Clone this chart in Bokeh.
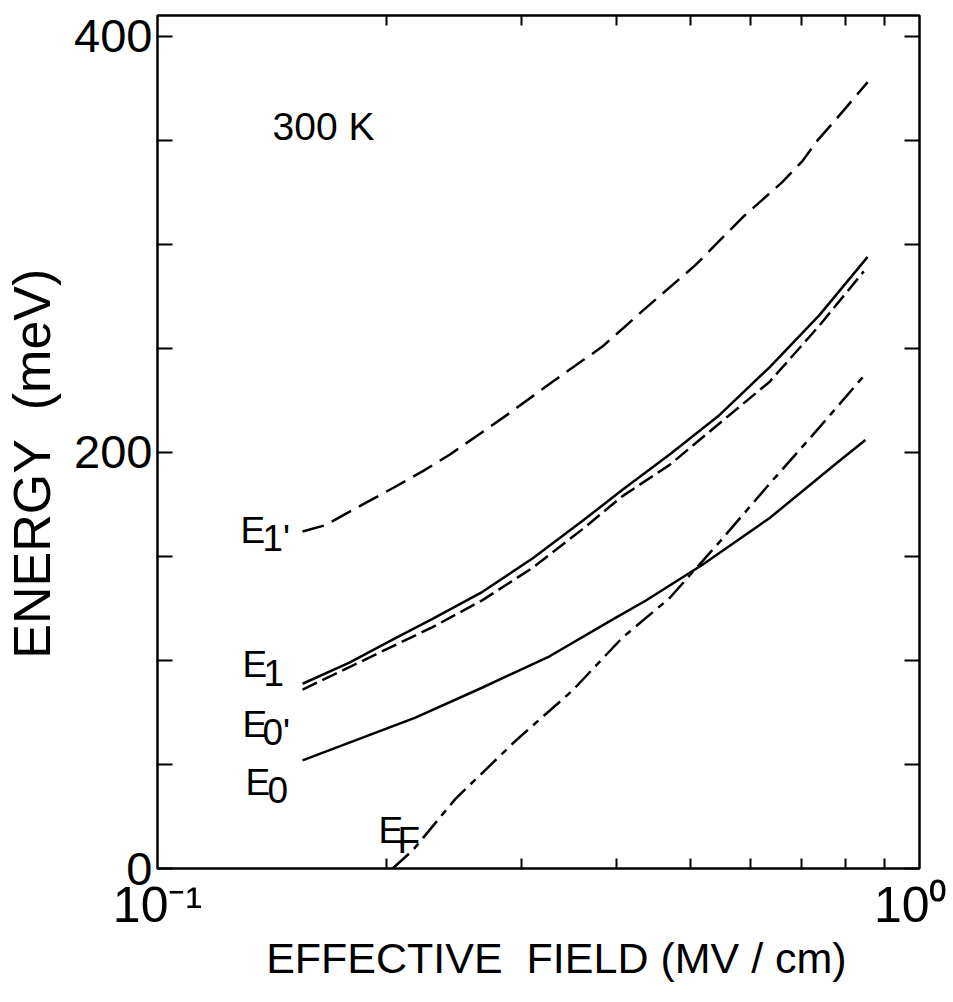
from bokeh.plotting import figure
from bokeh.models import FixedTicker, LinearAxis, LogAxis, Label, Range1d
from bokeh.embed import file_html
from bokeh.resources import INLINE

# ---- data ----
e1p_x = [0.155, 0.166, 0.186, 0.204, 0.223, 0.242, 0.265, 0.290, 0.330, 0.384, 0.433, 0.508, 0.586, 0.661, 0.702, 0.731, 0.785, 0.855]
e1p_y = [162, 165, 175, 183, 191, 199, 209, 219, 234, 251, 268, 290, 313, 330, 340, 349, 362, 378]

e1_x = [0.155, 0.1786, 0.2035, 0.2296, 0.267, 0.3105, 0.361, 0.4076, 0.470, 0.5466, 0.636, 0.739, 0.855]
e1_y = [88.8, 99, 110, 120, 133, 149, 167, 182, 199, 218, 241, 266, 294]

e0p_x = [0.155, 0.2296, 0.267, 0.3105, 0.361, 0.4076, 0.470, 0.5466, 0.636, 0.739, 0.845]
e0p_y = [86, 116, 129, 144.5, 163, 179, 194, 214, 234, 261, 287]

e0_x = [0.155, 0.218, 0.267, 0.327, 0.399, 0.437, 0.519, 0.636, 0.776, 0.849]
e0_y = [52, 72.5, 87, 102, 120.5, 128.7, 146, 168.5, 194.4, 206]

ef_x = [0.2035, 0.2161, 0.2462, 0.2951, 0.3503, 0.4076, 0.470, 0.5466, 0.636, 0.739, 0.849]
ef_y = [0, 8.6, 33.6, 61.4, 85.5, 111, 130, 157, 185, 212, 237.6]

y_major = [0, 200, 400]
y_minor = [50, 100, 150, 250, 300, 350]
x_major = [0.1, 1.0]
x_minor = [0.2, 0.3, 0.4, 0.5, 0.6, 0.7, 0.8, 0.9]
x_tick_labels = ["10\u207b\u00b9", "10\u2070"]

NB = "\u00a0"
FONT = "Liberation Sans"

p = figure(x_axis_type="log", x_range=Range1d(0.1, 1.0), y_range=Range1d(0, 410),
           frame_width=762, frame_height=853,
           min_border_left=147, min_border_top=15, min_border_right=28, min_border_bottom=119,
           output_backend="svg", toolbar_location=None)
p.background_fill_color = "white"
p.border_fill_color = "white"
p.grid.visible = False
p.outline_line_color = "black"
p.outline_line_width = 2.5

# left axis
ya = p.yaxis[0]
ya.ticker = FixedTicker(ticks=y_major, minor_ticks=y_minor)
ya.axis_line_color = None
ya.major_tick_in = 15
ya.major_tick_out = 0
ya.minor_tick_in = 15
ya.minor_tick_out = 0
ya.major_tick_line_width = 2
ya.minor_tick_line_width = 2
ya.major_label_text_font = FONT
ya.major_label_text_font_size = "47px"
ya.major_label_text_color = "black"
ya.major_label_standoff = 5
ya.axis_label = "ENERGY" + NB + " (meV)" + NB * 3
ya.axis_label_text_font = FONT
ya.axis_label_text_font_size = "52px"
ya.axis_label_text_font_style = "normal"
ya.axis_label_text_color = "black"
ya.axis_label_standoff = 10

# bottom axis
xa = p.xaxis[0]
xa.ticker = FixedTicker(ticks=x_major, minor_ticks=x_minor)
xa.axis_line_color = None
xa.major_tick_in = 0
xa.major_tick_out = 0
xa.minor_tick_in = 10
xa.minor_tick_out = 0
xa.minor_tick_line_width = 2
xa.major_label_overrides = dict(zip(x_major, x_tick_labels))
xa.major_label_text_font = FONT
xa.major_label_text_font_size = "50px"
xa.major_label_text_color = "black"
xa.major_label_standoff = 8
xa.axis_label = NB * 3 + "EFFECTIVE" + NB + " FIELD (MV / cm)"
xa.axis_label_text_font = FONT
xa.axis_label_text_font_size = "43px"
xa.axis_label_text_font_style = "normal"
xa.axis_label_text_color = "black"
xa.axis_label_standoff = -2

# right axis
ra = LinearAxis(ticker=FixedTicker(ticks=y_major, minor_ticks=y_minor))
ra.axis_line_color = None
ra.major_tick_in = 15
ra.major_tick_out = 0
ra.minor_tick_in = 15
ra.minor_tick_out = 0
ra.major_tick_line_width = 2
ra.minor_tick_line_width = 2
ra.major_label_overrides = {v: "" for v in y_major}
p.add_layout(ra, "right")

# top axis
ta = LogAxis(ticker=FixedTicker(ticks=x_major, minor_ticks=x_minor))
ta.axis_line_color = None
ta.major_tick_in = 0
ta.major_tick_out = 0
ta.minor_tick_in = 10
ta.minor_tick_out = 0
ta.minor_tick_line_width = 2
ta.major_label_overrides = {v: "" for v in x_major}
p.add_layout(ta, "above")

# curves
p.line(e1p_x, e1p_y, line_color="black", line_width=2.5, line_dash="22 9")
p.line(e1_x, e1_y, line_color="black", line_width=2.5)
p.line(e0p_x, e0p_y, line_color="black", line_width=2.5, line_dash="16 6")
p.line(e0_x, e0_y, line_color="black", line_width=2.5)
p.line(ef_x, ef_y, line_color="black", line_width=2.5, line_dash="22 7 7 7")

LIFT = 13  # px correction for label baseline placement

# curve labels: (x, y, main, sub, sub_dx, sub_dy)
curve_labels = [
    (0.1285, 156.1, "E", "1'", 22, -8),
    (0.1293, 91.7, "E", "1", 21, -8),
    (0.1293, 62.9, "E", "0'", 20, -8),
    (0.1305, 35.1, "E", "0", 22, -8),
    (0.195, 12.0, "E", "F", 19, -10),
]
for x, y, m, s, dx, dy in curve_labels:
    p.add_layout(Label(x=x, y=y, text=m, y_offset=LIFT, text_baseline="alphabetic", text_align="left",
                       text_font=FONT, text_font_size="37px", text_color="black"))
    p.add_layout(Label(x=x, y=y, text=s, x_offset=dx, y_offset=dy + LIFT,
                       text_baseline="alphabetic", text_align="left",
                       text_font=FONT, text_font_size="37px", text_color="black"))

p.add_layout(Label(x=0.1416, y=350.5, text="300 K", y_offset=LIFT, text_baseline="alphabetic", text_align="left",
                   text_font=FONT, text_font_size="39px", text_color="black"))

open("out.html", "w").write(file_html(p, INLINE))
